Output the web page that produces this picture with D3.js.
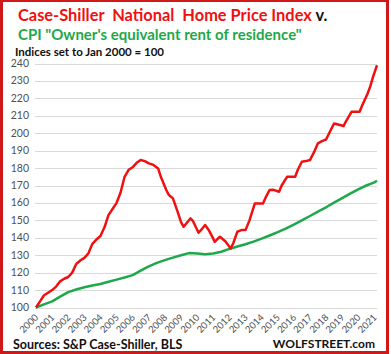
<!DOCTYPE html>
<meta charset="utf-8">
<html>
<head>
<script src="https://d3js.org/d3.v7.min.js"></script>
<style>
  body { margin: 0; background: #fff; }
  text { font-family: Lato, "Open Sans", sans-serif; }
</style>
</head>
<body>
<script>
// Case-Shiller National (NSA), Jan 2000 = 100
var homePrice = [
  ["2000-01",100],["2000-04",103.5],["2000-07",107],["2000-10",108.5],
  ["2001-01",110],["2001-04",112],["2001-07",115],["2001-10",116.5],
  ["2002-01",117.5],["2002-04",120],["2002-07",125],["2002-10",127],
  ["2003-01",128.5],["2003-04",131],["2003-07",136.5],["2003-10",139],
  ["2004-01",141],["2004-04",146],["2004-07",153],["2004-10",156.5],
  ["2005-01",160],["2005-04",166],["2005-07",175],["2005-10",179],
  ["2006-01",180.5],["2006-04",183],["2006-07",184.6],["2006-10",184],
  ["2007-01",182.7],["2007-04",182],["2007-08",179.8],["2007-10",175],
  ["2008-02",167.4],["2008-04",164.5],["2008-07",162.6],["2008-10",156],
  ["2009-01",149],["2009-03",146.3],["2009-08",151.1],["2009-10",149.5],
  ["2010-02",142.9],["2010-04",144.5],["2010-07",147.3],["2010-10",144],
  ["2011-01",139.5],["2011-02",137.7],["2011-06",140.6],["2011-10",138],
  ["2012-02",133.9],["2012-04",137],["2012-07",143.5],["2012-10",144.4],
  ["2013-01",144.4],["2013-04",150],["2013-08",159.7],["2013-10",159.7],
  ["2014-02",159.7],["2014-04",163],["2014-07",167.4],["2014-10",167.5],
  ["2015-02",166.4],["2015-04",170],["2015-08",175],["2015-10",175],
  ["2016-02",175],["2016-04",179],["2016-07",183.6],["2016-10",184],
  ["2017-01",184.6],["2017-04",189],["2017-07",194.2],["2017-10",195.5],
  ["2018-01",196.4],["2018-04",201],["2018-07",205.6],["2018-10",205],
  ["2019-02",204.1],["2019-04",207],["2019-08",212.3],["2019-10",212.3],
  ["2020-02",212.3],["2020-04",216],["2020-08",222.8],["2020-10",227],
  ["2020-12",232.3],["2021-03",239]
];

// CPI Owner's equivalent rent of residence, Jan 2000 = 100
var rentIndex = [
  ["2000-01",100],["2000-07",101.8],["2001-01",103.5],["2001-07",106.2],
  ["2002-01",108.8],["2002-07",110.3],["2003-01",111.6],["2003-07",112.6],
  ["2004-01",113.5],["2004-07",114.8],["2005-01",116],["2005-07",117.2],
  ["2006-01",118.6],["2006-07",121.2],["2007-01",123.6],["2007-07",125.6],
  ["2008-01",127.2],["2008-07",128.6],["2009-01",130],["2009-07",131.2],
  ["2010-01",131],["2010-07",130.6],["2011-01",131],["2011-07",132],
  ["2012-01",133.6],["2012-07",135],["2013-01",136.3],["2013-07",137.8],
  ["2014-01",139.5],["2014-07",141.3],["2015-01",143.2],["2015-07",145.3],
  ["2016-01",147.6],["2016-07",150],["2017-01",152.5],["2017-07",155],
  ["2018-01",157.5],["2018-07",160.2],["2019-01",162.8],["2019-07",165.3],
  ["2020-01",167.8],["2020-07",170],["2021-01",171.8],["2021-03",172.7]
];

var yTicks = d3.range(100, 241, 10);
var yearLabels = d3.range(2000, 2022);

var W = 391, H = 354;
var parse = d3.timeParse("%Y-%m");

var svg = d3.select("body").append("svg")
    .attr("width", W).attr("height", H);

svg.append("rect").attr("width", W).attr("height", H).attr("fill", "#fff");

var x = d3.scaleTime()
    .domain([parse("2000-01"), parse("2021-03")])
    .range([36, 377]);
var y = d3.scaleLinear().domain([100, 240]).range([307.5, 63.5]);

// gridlines + y labels
svg.append("g").selectAll("line").data(yTicks).enter().append("line")
    .attr("x1", 35).attr("x2", 377)
    .attr("y1", function(d){ return Math.round(y(d)) + 0.5; })
    .attr("y2", function(d){ return Math.round(y(d)) + 0.5; })
    .attr("stroke", "#d9d9d9").attr("stroke-width", 1);

svg.append("g").selectAll("text").data(yTicks).enter().append("text")
    .attr("x", 29).attr("y", function(d){ return y(d) + 3.5; })
    .attr("text-anchor", "end")
    .attr("font-size", 10.5).attr("fill", "#505050")
    .text(function(d){ return d; });

// x labels, rotated
svg.append("g").selectAll("text").data(yearLabels).enter().append("text")
    .attr("transform", function(d){
      return "translate(" + (x(parse(d + "-01")) + 3) + ",318) rotate(-45)";
    })
    .attr("text-anchor", "end")
    .attr("font-size", 9.5).attr("fill", "#505050")
    .text(function(d){ return d; });

var line = d3.line()
    .x(function(d){ return x(parse(d[0])); })
    .y(function(d){ return y(d[1]); });

svg.append("path").datum(rentIndex)
    .attr("d", line).attr("fill", "none")
    .attr("stroke", "#1fa84a").attr("stroke-width", 2.5)
    .attr("stroke-linejoin", "round");

svg.append("path").datum(homePrice)
    .attr("d", line).attr("fill", "none")
    .attr("stroke", "#f01010").attr("stroke-width", 2.5)
    .attr("stroke-linejoin", "round");

// titles
var t1 = svg.append("text").attr("x", 18).attr("y", 20.5)
    .attr("font-size", 16.4).attr("font-weight", "bold");
t1.append("tspan").attr("fill", "#f01010").text("Case-Shiller\u00a0 National\u00a0 Home Price Index ");
t1.append("tspan").attr("fill", "#111").text("v.");

svg.append("text").attr("x", 18).attr("y", 39.5)
    .attr("font-size", 15).attr("font-weight", "bold")
    .attr("fill", "#1fa84a")
    .text("CPI \"Owner's equivalent rent of residence\"");

svg.append("text").attr("x", 15).attr("y", 55.5)
    .attr("font-size", 11.5).attr("font-weight", "bold").attr("fill", "#111")
    .text("Indices set to Jan 2000 = 100");

svg.append("text").attr("x", 13).attr("y", 349)
    .attr("font-size", 12.5).attr("font-weight", "bold").attr("fill", "#111")
    .text("Sources: S&P Case-Shiller, BLS");

svg.append("text").attr("x", 375).attr("y", 347.5)
    .attr("text-anchor", "end")
    .attr("font-size", 12).attr("font-weight", "bold").attr("fill", "#111")
    .text("WOLFSTREET.com");

// red frame
svg.append("rect").attr("x", 1.5).attr("y", 0.5).attr("width", 386).attr("height", 352)
    .attr("fill", "none").attr("stroke", "#d01818").attr("stroke-width", 3);
</script>
</body>
</html>
